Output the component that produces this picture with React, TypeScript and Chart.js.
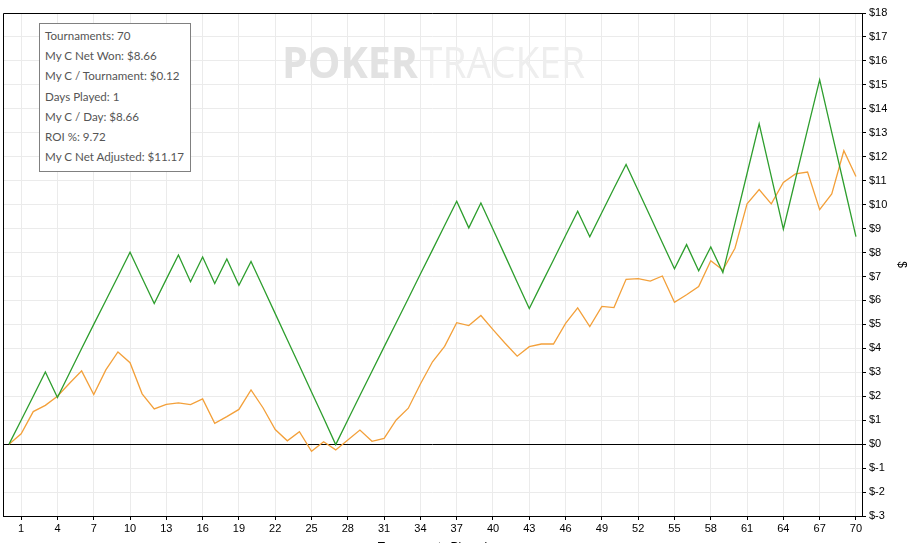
import React, { useRef, useEffect } from 'react';
import { Chart, registerables } from 'chart.js';

Chart.register(...registerables);

// tournament index 0..70 (0 = start point, unlabeled)
const tournaments = Array.from({ length: 71 }, (_, i) => i);

const netWon = [
  0, 1.0, 2.0, 3.01, 1.95, 2.97, 3.99, 5.0, 6.0, 7.0, 8.01,
  6.94, 5.87, 6.89, 7.9, 6.78, 7.81, 6.71, 7.73, 6.63, 7.63,
  6.54, 5.45, 4.36, 3.27, 2.18, 1.09, -0.02,
  1.01, 2.03, 3.04, 4.06, 5.07, 6.08, 7.1, 8.11, 9.13, 10.14,
  9.03, 10.07, 8.97, 7.87, 6.76, 5.66, 6.68, 7.69, 8.71, 9.72,
  8.66, 9.67, 10.68, 11.68, 10.59, 9.5, 8.41, 7.32, 8.33, 7.24, 8.23, 7.16,
  9.23, 11.3, 13.37, 11.18, 8.98, 11.06, 13.14, 15.21, 13.02, 10.84, 8.66,
];

const netAdjusted = [
  0, 0.43, 1.36, 1.62, 2.0, 2.54, 3.06, 2.07, 3.1, 3.85, 3.4,
  2.1, 1.47, 1.66, 1.72, 1.65, 1.89, 0.87, 1.15, 1.45, 2.26,
  1.51, 0.61, 0.14, 0.52, -0.3, 0.1, -0.24,
  0.17, 0.59, 0.12, 0.24, 1.01, 1.5, 2.51, 3.44, 4.08, 5.07,
  4.95, 5.37, 4.78, 4.21, 3.67, 4.07, 4.18, 4.18, 5.04, 5.69,
  4.91, 5.75, 5.7, 6.88, 6.91, 6.81, 7.02, 5.92, 6.24, 6.58, 7.66, 7.27,
  8.18, 10.03, 10.63, 10.03, 10.93, 11.28, 11.36, 9.79, 10.45, 12.25, 11.17,
];

const statLines = [
  'Tournaments: 70',
  'My C Net Won: $8.66',
  'My C / Tournament: $0.12',
  'Days Played: 1',
  'My C / Day: $8.66',
  'ROI %: 9.72',
  'My C Net Adjusted: $11.17',
];

const tickFont = { family: "'Liberation Sans', Arial, sans-serif", size: 11 };
const gridGray = '#ebebeb';

// frame around plot + faint logo watermark
const framePlugin = {
  id: 'frame',
  beforeDatasetsDraw(chart: any) {
    const ctx = chart.ctx;
    ctx.save();
    ctx.textBaseline = 'alphabetic';
    const fit = (text: string, font: string, color: string, x0: number, x1: number, y: number) => {
      ctx.font = font;
      const w = ctx.measureText(text).width;
      ctx.save();
      ctx.translate(x0, y);
      ctx.scale((x1 - x0) / w, 1);
      ctx.fillStyle = color;
      ctx.fillText(text, 0, 0);
      ctx.restore();
    };
    fit('POKER', "bold 43px 'Open Sans', sans-serif", '#e2e2e2', 282, 418, 78);
    fit('TRACKER', "43px 'Open Sans', sans-serif", '#eeeeee', 421, 585, 78);
    ctx.restore();
  },
  afterDraw(chart: any) {
    const { ctx, chartArea } = chart;
    ctx.save();
    ctx.strokeStyle = '#000';
    ctx.lineWidth = 1;
    ctx.beginPath();
    ctx.moveTo(chartArea.left + 0.5, chartArea.bottom);
    ctx.lineTo(chartArea.left + 0.5, chartArea.top + 0.5);
    ctx.lineTo(chartArea.right, chartArea.top + 0.5);
    ctx.stroke();
    ctx.restore();
  },
};

const App: React.FC = () => {
  const canvasRef = useRef<HTMLCanvasElement | null>(null);

  useEffect(() => {
    if (!canvasRef.current) return;
    const chart = new Chart(canvasRef.current, {
      type: 'line',
      data: {
        labels: tournaments,
        datasets: [
          {
            label: 'My C Net Won',
            data: netWon,
            borderColor: '#2e9e2e',
            borderWidth: 1.3,
            pointRadius: 0,
            tension: 0,
            fill: false,
          },
          {
            label: 'My C Net Adjusted',
            data: netAdjusted,
            borderColor: '#f3a03a',
            borderWidth: 1.3,
            pointRadius: 0,
            tension: 0,
            fill: false,
          },
        ],
      },
      options: {
        animation: false,
        responsive: true,
        maintainAspectRatio: false,
        layout: { padding: { top: 13, left: 3, right: 0, bottom: 0 } },
        plugins: {
          legend: { display: false },
          tooltip: { enabled: false },
        },
        scales: {
          x: {
            type: 'category',
            offset: true,
            grid: {
              offset: false,
              color: gridGray,
              tickColor: '#000',
              tickLength: 4,
            },
            border: { color: '#000' },
            ticks: {
              autoSkip: false,
              maxRotation: 0,
              color: '#000',
              font: tickFont,
              padding: 2,
              callback: (v: any) => {
                const n = tournaments[v];
                return n >= 1 && (n - 1) % 3 === 0 ? String(n) : null;
              },
            },
            title: {
              display: true,
              text: 'Tournaments Played',
              color: '#000',
              font: { family: "'Liberation Sans', Arial, sans-serif", size: 12 },
              padding: { top: 4, bottom: 5.5 },
            },
            afterFit: (scale: any) => {
              scale.height = 44;
            },
          },
          y: {
            position: 'right',
            min: -3,
            max: 18,
            grid: {
              color: (c: any) => (c.tick && c.tick.value === 0 ? '#000' : gridGray),
              tickColor: '#000',
              tickLength: 4,
            },
            border: { color: '#000' },
            ticks: {
              stepSize: 1,
              color: '#000',
              font: tickFont,
              padding: 3,
              callback: (v: any) => '$' + v,
            },
            title: {
              display: true,
              text: '$',
              color: '#000',
              font: { family: "'Liberation Sans', Arial, sans-serif", size: 12 },
              padding: { top: 0, bottom: 2 },
            },
            afterFit: (scale: any) => {
              scale.width = 47;
            },
          },
        },
      },
      plugins: [framePlugin],
    });
    return () => chart.destroy();
  }, []);

  return (
    <div
      style={{
        position: 'fixed',
        left: 0,
        top: 0,
        width: 909,
        height: 543,
        overflow: 'hidden',
        background: '#fff',
      }}
    >
      <div style={{ position: 'absolute', left: 0, top: 0, width: 909, height: 560 }}>
        <canvas ref={canvasRef}></canvas>
      </div>
      <div
        style={{
          position: 'absolute',
          left: 39,
          top: 23,
          width: 152,
          height: 149,
          border: '1px solid #808080',
          background: '#fff',
          padding: '2px 0 0 5px',
          boxSizing: 'border-box',
          fontFamily: "Lato, 'Noto Sans', sans-serif",
          fontSize: 11.6,
          lineHeight: '20.2px',
          color: '#555',
          whiteSpace: 'nowrap',
        }}
      >
        {statLines.map((s) => (
          <div key={s}>{s}</div>
        ))}
      </div>
    </div>
  );
};

export default App;
